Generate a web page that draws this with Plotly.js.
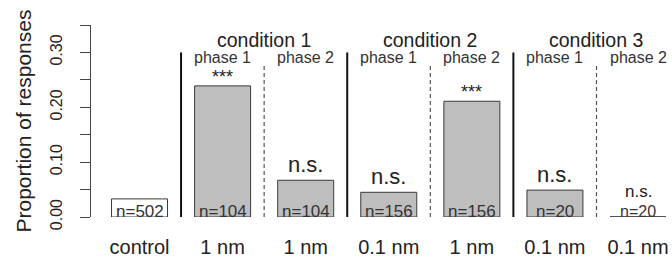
<!DOCTYPE html>
<html><head><meta charset="utf-8">
<script src="https://cdn.plot.ly/plotly-3.0.1.min.js"></script>
<style>html,body{margin:0;padding:0;background:#fff}#chart{width:672px;height:258px}</style>
</head><body><div id="chart"></div>
<script>
const categories = ['control', '1 nm', '1 nm', '0.1 nm', '1 nm', '0.1 nm', '0.1 nm'];
const proportions = [0.033, 0.239, 0.067, 0.045, 0.211, 0.049, 0];
const sampleSizes = [502, 104, 104, 156, 156, 20, 20];
const significance = ['', '***', 'n.s.', 'n.s.', '***', 'n.s.', 'n.s.'];
const conditionLabels = ['condition 1', 'condition 2', 'condition 3'];
const phaseLabels = ['phase 1', 'phase 2', 'phase 1', 'phase 2', 'phase 1', 'phase 2'];
const yTickValues = [0, 0.05, 0.10, 0.15, 0.20, 0.25, 0.30, 0.35];
const yTickLabels = ['0.00', '', '0.10', '', '0.20', '', '0.30', ''];

const FONT = 'Liberation Sans, Arial, sans-serif';
const TXT = '#222222';
const barWidth = 0.674;
const idx = categories.map((_, i) => i);

const trace = {
  type: 'bar',
  x: idx,
  y: proportions,
  width: barWidth,
  marker: {
    color: idx.map(i => i === 0 ? '#ffffff' : '#bebebe'),
    line: {color: '#3a3a3a', width: 1}
  },
  hoverinfo: 'skip',
  showlegend: false
};

const shapes = [];
for (let i = 0; i < categories.length - 1; i++) {
  const solid = i % 2 === 0;
  shapes.push({
    type: 'line', xref: 'x', yref: 'y',
    x0: i + 0.5, x1: i + 0.5, y0: 0, y1: solid ? 0.30 : 0.28,
    line: solid ? {color: '#111', width: 2} : {color: '#555', width: 1.2, dash: '4px,3px'}
  });
}
proportions.forEach((v, i) => {
  if (v === 0) shapes.push({type: 'line', xref: 'x', yref: 'y',
    x0: i - barWidth / 2, x1: i + barWidth / 2, y0: 0, y1: 0,
    line: {color: '#3a3a3a', width: 1.2}});
});

const annotations = [];
sampleSizes.forEach((n, i) => {
  const empty = proportions[i] === 0;
  annotations.push({
    x: i, y: 0, xref: 'x', yref: 'y', text: 'n=' + n, showarrow: false, borderpad: 0,
    yanchor: 'bottom', yshift: empty ? -4 : -5, font: {family: FONT, size: empty ? 16 : 17, color: '#333'}
  });
});
significance.forEach((s, i) => {
  if (!s) return;
  const small = proportions[i] === 0;
  annotations.push({
    x: i, y: proportions[i], xref: 'x', yref: 'y', text: s, showarrow: false, borderpad: 0,
    yanchor: 'bottom', yshift: s === '***' ? -2 : (small ? 15 : 2),
    font: {family: FONT, size: s === '***' ? 18 : (small ? 17 : 22), color: TXT}
  });
});
conditionLabels.forEach((c, k) => annotations.push({
  x: 1.5 + 2 * k, y: 0.3226, xref: 'x', yref: 'y', text: c, showarrow: false,
  yanchor: 'middle', font: {family: FONT, size: 19.5, color: TXT}
}));
phaseLabels.forEach((p, k) => annotations.push({
  x: k + 1, y: 0.290, xref: 'x', yref: 'y', text: p, showarrow: false,
  yanchor: 'middle', font: {family: FONT, size: 16, color: '#333'}
}));

const layout = {
  width: 672, height: 258,
  margin: {l: 91, r: 0, t: 25, b: 41, pad: 0},
  paper_bgcolor: '#fff', plot_bgcolor: '#fff',
  bargap: 0,
  xaxis: {
    range: [-0.584, 6.409], tickvals: idx, ticktext: categories,
    showgrid: false, zeroline: false, showline: false, ticks: '',
    ticklabelstandoff: 16,
    tickfont: {family: FONT, size: 20, color: TXT}
  },
  yaxis: {
    range: [0, 0.35], tickvals: yTickValues, ticktext: yTickLabels,
    showgrid: false, zeroline: false, showline: true, linecolor: '#444', linewidth: 1,
    ticks: 'outside', ticklen: 10, tickcolor: '#444', tickwidth: 1,
    tickangle: -90, ticklabelstandoff: 12,
    tickfont: {family: FONT, size: 16, color: TXT},
    title: {text: 'Proportion of responses', standoff: 10, font: {family: FONT, size: 21, color: TXT}}
  },
  shapes: shapes,
  annotations: annotations
};

Plotly.newPlot('chart', [trace], layout, {staticPlot: true, displayModeBar: false});
</script>
</body></html>
